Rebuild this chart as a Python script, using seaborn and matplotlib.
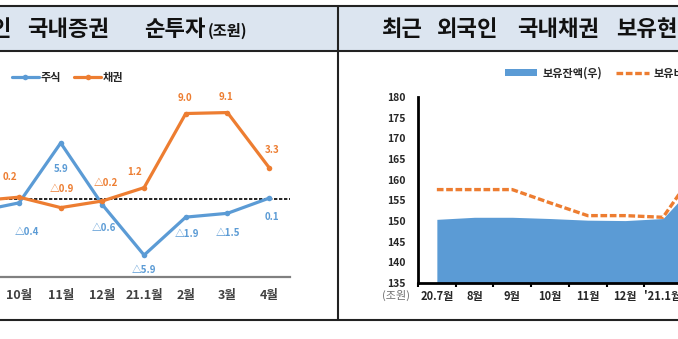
import numpy as np
import pandas as pd
import matplotlib
matplotlib.use("Agg")
import matplotlib.pyplot as plt
import seaborn as sns
from matplotlib.patches import Rectangle, Patch
from matplotlib.lines import Line2D

# ---------------- data ----------------
months_l = ["9월", "10월", "11월", "12월", "21.1월", "2월", "3월", "4월"]
stocks = [-1.3, -0.4, 5.9, -0.6, -5.9, -1.9, -1.5, 0.1]
bonds = [-0.2, 0.2, -0.9, -0.2, 1.2, 9.0, 9.1, 3.3]

months_r = ["20.7월", "8월", "9월", "10월", "11월", "12월", "'21.1월", "2월"]
holding_amt = [150.4, 150.9, 150.9, 150.6, 150.2, 150.1, 150.6, 160.5]
holding_line = [157.6, 157.6, 157.6, 154.4, 151.3, 151.3, 150.9, 164.0]

title_l_words = ["외국인", "국내증권", "순투자"]
title_l_unit = "(조원)"
title_r_words = ["최근", "외국인", "국내채권", "보유현황"]
legend_l = ["주식", "채권"]
legend_r = ["보유잔액(우)", "보유비중(좌)"]

BLUE = "#5b9bd5"
ORANGE = "#ed7d31"

sns.set_theme(style="white")
plt.rcParams["font.family"] = ["Noto Sans CJK KR", "DejaVu Sans"]
plt.rcParams["axes.unicode_minus"] = False

W, H = 678, 339
fig = plt.figure(figsize=(W / 100, H / 100), dpi=100)
fig.patch.set_facecolor("white")


def fx(px):
    return px / W


def fy(py):
    return 1 - py / H


# ---------------- header band and borders ----------------
fig.patches.append(Rectangle((0, fy(51)), 1, fy(6) - fy(51), transform=fig.transFigure,
                             facecolor="#dce5f0", edgecolor="none", zorder=0))
for yy in (6, 51, 320):
    fig.add_artist(Line2D([0, 1], [fy(yy), fy(yy)], transform=fig.transFigure,
                          color="#222222", lw=1.5))
fig.add_artist(Line2D([fx(338), fx(338)], [fy(6), fy(320)], transform=fig.transFigure,
                      color="#222222", lw=1.5))

tkw = dict(va="center", fontsize=16, fontweight="bold", color="#111111")
fig.text(fx(12), fy(29), title_l_words[0], ha="right", **tkw)
fig.text(fx(27), fy(29), title_l_words[1], ha="left", **tkw)
fig.text(fx(175), fy(29), title_l_words[2], ha="center", **tkw)
fig.text(fx(208), fy(30.5), title_l_unit, ha="left", va="center", fontsize=11,
         fontweight="bold", color="#111111")
for word, px in zip(title_r_words, [381, 437, 517, 616]):
    fig.text(fx(px), fy(29), word, ha="left", **tkw)

# ---------------- left panel ----------------
axL = fig.add_axes([fx(-43.5), fy(277), (290 + 43.5) / W, (277 - 75.5) / H])
axL.set_facecolor("none")
xl = np.arange(len(months_l))
dfl = pd.DataFrame({"x": np.concatenate([xl, xl]),
                    "v": stocks + bonds,
                    "s": [legend_l[0]] * len(xl) + [legend_l[1]] * len(xl)})
axL.axhline(0, color="black", lw=1.2, dashes=(2, 1), zorder=1)
sns.lineplot(data=dfl, x="x", y="v", hue="s", palette=[BLUE, ORANGE], marker="o",
             markersize=4, markeredgewidth=0, lw=2.3, ax=axL, legend=False, zorder=3)
axL.set_xlim(-0.5, 7.5)
axL.set_ylim(-8.2, 13)
axL.set_xticks(xl[1:])
axL.set_xticklabels(months_l[1:], fontsize=9, fontweight="bold", color="#404040")
axL.tick_params(axis="x", length=0, pad=9)
axL.set_yticks([])
axL.set_xlabel("")
axL.set_ylabel("")
for s in ("top", "left", "right"):
    axL.spines[s].set_visible(False)
axL.spines["bottom"].set_color("#808080")
axL.spines["bottom"].set_linewidth(1.6)


def fmt(v):
    return f"△{abs(v):.1f}" if v < 0 else f"{v:.1f}"


off_s = [(0, -20), (8, -29), (0, -26), (1, -23), (0, -15), (1, -17), (0, -20), (3, -19)]
off_b = [(0, 18), (-9, 20), (1, 18.5), (3, 18), (-9, 16), (-1, 15.5), (-1, 15.5), (3, 17.6)]
for i in range(1, len(xl)):
    axL.annotate(fmt(stocks[i]), (xl[i], stocks[i]), xytext=off_s[i], textcoords="offset pixels",
                 ha="center", va="center", fontsize=7, fontweight="bold", color=BLUE)
    axL.annotate(fmt(bonds[i]), (xl[i], bonds[i]), xytext=off_b[i], textcoords="offset pixels",
                 ha="center", va="center", fontsize=7, fontweight="bold", color=ORANGE)

hl = [Line2D([], [], color=BLUE, lw=2.3, marker="o", ms=4, mew=0),
      Line2D([], [], color=ORANGE, lw=2.3, marker="o", ms=4, mew=0)]
fig.legend(hl, legend_l, loc="center left", bbox_to_anchor=(fx(12), fy(77)),
           ncol=2, frameon=False, handlelength=2.4, handletextpad=0.15,
           columnspacing=1.2, borderpad=0, borderaxespad=0,
           prop={"weight": "bold", "size": 8})

# ---------------- right panel ----------------
axR = fig.add_axes([fx(418), fy(283), 377 / W, 186 / H])
axR.set_facecolor("none")
xr = np.arange(len(months_r))
axR.fill_between(xr, 135, holding_amt, color=BLUE, lw=0, zorder=2)
sns.lineplot(x=xr, y=holding_line, color=ORANGE, lw=2.4, ax=axR, zorder=3)
axR.lines[-1].set_dashes([2.0, 0.8])
axR.lines[-1].set_dash_capstyle("butt")
axR.set_xlim(-0.5, 9.5)
axR.set_ylim(135, 180)
axR.set_yticks(np.arange(135, 181, 5))
axR.set_yticklabels([str(v) for v in range(135, 181, 5)], fontsize=7.5, fontweight="bold",
                    color="#262626")
axR.tick_params(axis="y", length=0, pad=9)
axR.set_xticks(xr[:-1])
axR.set_xticklabels(months_r[:-1], fontsize=8, fontweight="bold", color="#262626")
axR.set_xticks(np.arange(-0.5, 10, 1), minor=True)
axR.tick_params(axis="x", which="major", length=0, pad=5)
axR.tick_params(axis="x", which="minor", length=3, width=1.5, color="black", direction="out",
                bottom=True)
for s in ("top", "right"):
    axR.spines[s].set_visible(False)
for s in ("left", "bottom"):
    axR.spines[s].set_color("black")
    axR.spines[s].set_linewidth(2)
fig.text(fx(396), fy(295), "(조원)", ha="center", va="center", fontsize=8, color="#707070")

hr = [Patch(facecolor=BLUE, edgecolor="none"),
      Line2D([], [], color=ORANGE, lw=2.4, dashes=[2.0, 0.8])]
fig.legend(hr, legend_r, loc="center left", bbox_to_anchor=(fx(505), fy(73)),
           ncol=2, frameon=False, handlelength=2.9, handleheight=0.6, handletextpad=0.45,
           columnspacing=1.3, borderpad=0, borderaxespad=0,
           prop={"weight": "bold", "size": 8})

fig.savefig("out.png", dpi=100)
